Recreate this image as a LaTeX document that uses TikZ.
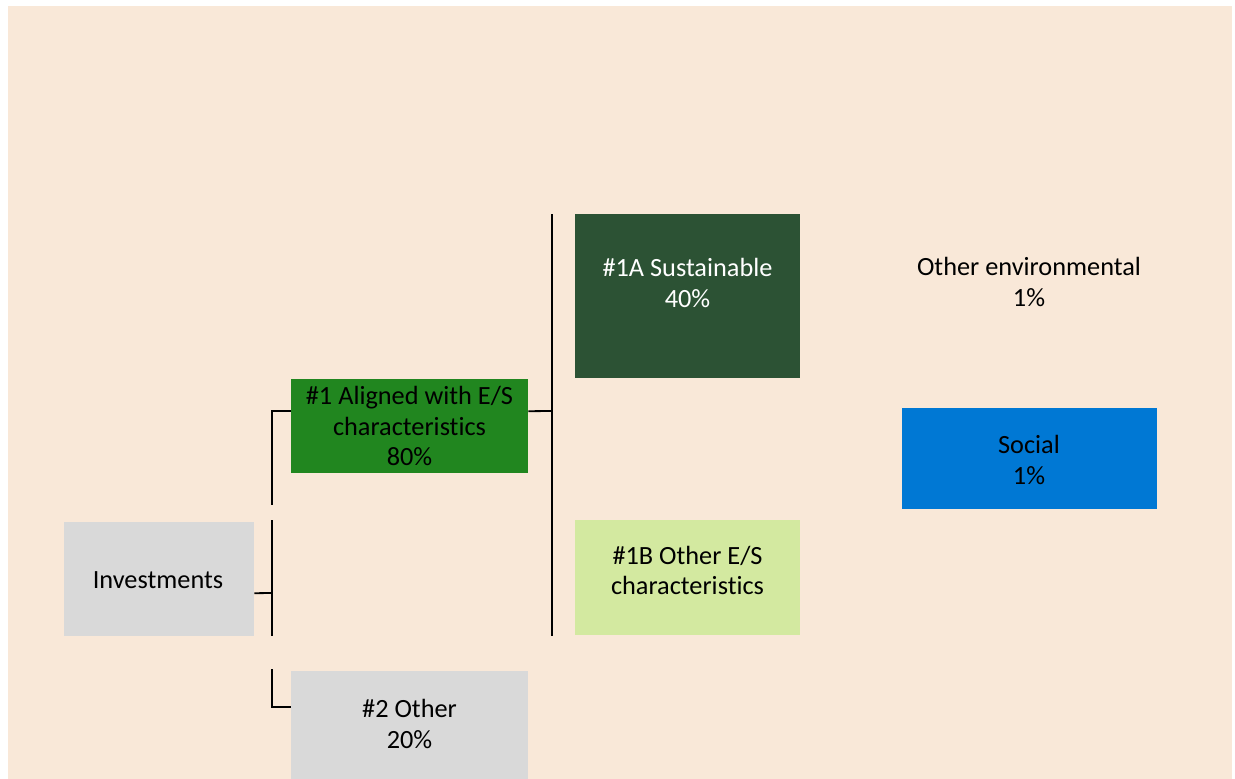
\documentclass[tikz,border=0pt]{standalone}
\usepackage{fontspec}
\setmainfont{Carlito}[Ligatures=NoCommon]
\definecolor{bgpeach}{HTML}{F9E8D8}
\definecolor{greyfill}{HTML}{D9D9D9}
\definecolor{midgreen}{HTML}{21861F}
\definecolor{darkgreen}{HTML}{2C5234}
\definecolor{lightgreen}{HTML}{D3E9A0}
\definecolor{socialblue}{HTML}{0078D4}
\tikzset{
  box/.style={draw=none, inner sep=0pt, anchor=north west},
  txt/.style={align=center, inner sep=0pt, font=\fontsize{26.3}{30.5}\selectfont},
  conn/.style={draw=black, line width=1.8pt}
}
\begin{document}
\begin{tikzpicture}[x=1pt,y=-1pt]
\useasboundingbox (0,0) rectangle (1235,779);
\fill[white] (0,0) rectangle (1235,779);
\fill[bgpeach] (8,6) rectangle (1232,779);

% boxes
\node[box, fill=greyfill, minimum width=190pt, minimum height=114pt] (inv) at (64,522) {};
\node[box, fill=midgreen, minimum width=237pt, minimum height=94pt] (al) at (291,379) {};
\node[box, fill=greyfill, minimum width=237pt, minimum height=108pt] (oth) at (291,671) {};
\node[box, fill=darkgreen, minimum width=225pt, minimum height=164pt] (sus) at (575,214) {};
\node[box, fill=lightgreen, minimum width=225pt, minimum height=115pt] (oes) at (575,520) {};
\node[box, fill=socialblue, minimum width=255pt, minimum height=101pt] (soc) at (902,408) {};

% texts
\node[txt] (invt) at (158,580) {Investments};
\node[txt] (alt) at (409.5,426) {\#1 Aligned with E/S\\characteristics\\80\%};
\node[txt] (otht) at (409.5,724) {\#2 Other\\20\%};
\node[txt, text=white] (sust) at (687.5,283) {\#1A Sustainable\\40\%};
\node[txt] (oest) at (687.5,570.5) {\#1B Other E/S\\characteristics};
\node[txt] (envt) at (1029,282) {Other environmental\\1\%};
\node[txt] (soct) at (1029,460) {Social\\1\%};

% connectors
\coordinate (jl) at (272,593);
\coordinate (rt) at (552,214);
\coordinate (rb) at (552,636);
\draw[conn] ([yshift=-14pt]inv.east) -- (jl);
\draw[conn] ([yshift=15pt]al.west) -| (272,505)
  (272,520) -- (272,636)
  (272,669) |- ([yshift=18pt]oth.west);
\draw[conn] ([yshift=15pt]al.east) -- (rt |- 0,411);
\draw[conn] (rt) -- (rb);
\end{tikzpicture}
\end{document}
